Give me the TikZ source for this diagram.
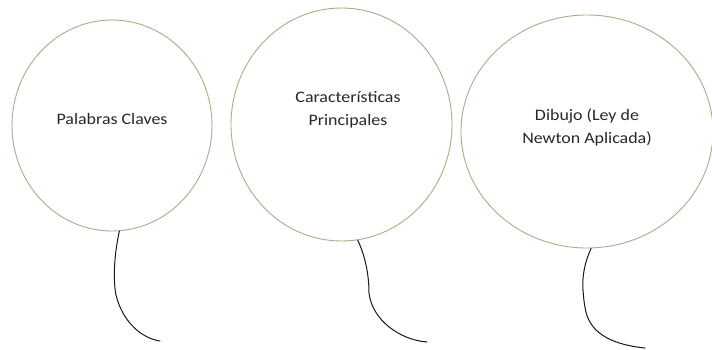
\documentclass[tikz,border=0pt]{standalone}
\usepackage{fontspec}
\setmainfont{Carlito}[FakeStretch=1.12]
\usetikzlibrary{shapes.geometric}
\definecolor{rimcol}{RGB}{160,178,135}
\definecolor{txtcol}{RGB}{40,40,40}
\tikzset{
  balloon/.style={ellipse, draw=rimcol, line width=0.9pt, inner sep=0pt},
  label text/.style={font=\fontsize{16}{23}\selectfont, text=txtcol, align=center, inner sep=0pt},
  stringline/.style={draw=black!90, line width=1pt, line cap=round}
}
\begin{document}
\begin{tikzpicture}[x=1pt,y=-1pt]
\useasboundingbox (0,0) rectangle (712,349);
\fill[white] (0,0) rectangle (712,349);
\node[balloon, minimum width=200pt, minimum height=211pt] (c1) at (112,125.5) {};
\node[balloon, minimum width=221pt, minimum height=233pt] (c2) at (341.5,124.5) {};
\node[balloon, minimum width=252pt, minimum height=233pt] (c3) at (587,131.5) {};
\node[label text] (t1) at (112,119) {Palabras Claves};
\node[label text] (t2) at (348,110) {Características\\Principales};
\node[label text] (t3) at (587,127.5) {Dibujo (Ley de\\Newton Aplicada)};
\coordinate (e1) at (160,341);
\coordinate (e2) at (427,342);
\coordinate (e3) at (645,348);
\draw[stringline] (c1.274.5) .. controls (114,255) and (113,280) .. (116,295) .. controls (122,320) and (140,338) .. (e1);
\draw[stringline] (c2.278.5) .. controls (367,260) and (369,280) .. (369,293) .. controls (372,320) and (400,340) .. (e2);
\draw[stringline] (c3.272) .. controls (585,262) and (582,275) .. (583,290) .. controls (584,305) and (586,316) .. (590,322) .. controls (600,340) and (625,346) .. (e3);
\end{tikzpicture}
\end{document}
